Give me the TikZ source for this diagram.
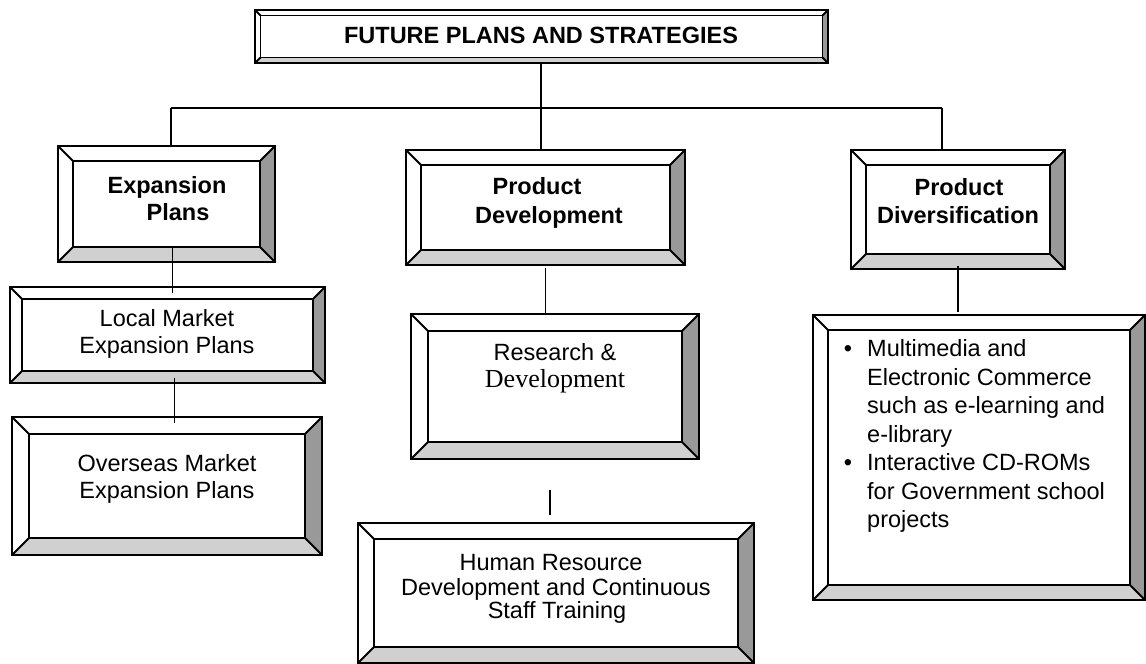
\documentclass[tikz,border=0pt]{standalone}
\usepackage{fontspec}
\setmainfont{Liberation Sans}
\newfontfamily\serifface{Liberation Serif}
\usetikzlibrary{calc}
\definecolor{sidegray}{HTML}{999999}
\definecolor{basegray}{HTML}{D0D0D0}
\begin{document}
\begin{tikzpicture}[x=1pt,y=-1pt,
  frame/.style={draw=black,line width=1.8pt,line join=miter},
  link/.style={draw=black,line width=1.8pt},
  txt/.style={anchor=base,inner sep=0pt,font=\fontsize{23.5}{27}\selectfont},
  btxt/.style={txt,font=\fontsize{23.5}{27}\selectfont\bfseries},
  ltxt/.style={txt,anchor=base west},
  boxnode/.style={rectangle,inner sep=0pt,outer sep=0pt}]
% bevelled box: name, x1, y1, x2, y2, bevel width
\newcommand\bevelbox[6]{%
  \node[boxnode,minimum width={(#4-#2)*1pt},minimum height={(#5-#3)*1pt}] (#1) at ({(#2+#4)/2},{(#3+#5)/2}) {};
  \node[boxnode,minimum width={(#4-#2-2*#6)*1pt},minimum height={(#5-#3-2*#6)*1pt}] (#1-in) at ({(#2+#4)/2},{(#3+#5)/2}) {};
  \fill[white] (#1.north west) rectangle (#1.south east);
  \fill[sidegray] (#1.north east) -- (#1.south east) -- (#1-in.south east) -- (#1-in.north east) -- cycle;
  \fill[basegray] (#1.south west) -- (#1.south east) -- (#1-in.south east) -- (#1-in.south west) -- cycle;
  \draw[frame] (#1.north west) rectangle (#1.south east);
  \draw[frame] (#1-in.north west) rectangle (#1-in.south east);
  \draw[frame] (#1.north west) -- (#1-in.north west)
               (#1.north east) -- (#1-in.north east)
               (#1.south west) -- (#1-in.south west)
               (#1.south east) -- (#1-in.south east);
}
\useasboundingbox (0,0) rectangle (1146,664);
\fill[white] (0,0) rectangle (1146,664);

% boxes
\bevelbox{title}{255}{10}{828}{63}{5.5}
\bevelbox{exp}{58}{146}{275}{262}{15}
\bevelbox{loc}{10}{287}{325}{383}{12}
\bevelbox{ov}{12}{417}{322}{555}{17}
\bevelbox{pd}{406}{150}{685}{265}{15}
\bevelbox{rd}{411}{314}{699}{459}{17}
\bevelbox{hr}{358}{523}{754}{663}{16}
\bevelbox{pdiv}{851}{150}{1065}{269}{15}
\bevelbox{bul}{813}{315}{1145}{600}{15}

% texts
\node[btxt] (t-title) at (541,43.5) {FUTURE PLANS AND STRATEGIES};
\node[btxt] (t-exp1) at (167,193.5) {Expansion};
\node[btxt] (t-exp2) at (178,220.5) {Plans};
\node[btxt] (t-pd1) at (537,194.5) {Product};
\node[btxt] (t-pd2) at (549,223.5) {Development};
\node[btxt] (t-pdiv1) at (959,195.5) {Product};
\node[btxt] (t-pdiv2) at (958,223.5) {Diversification};
\node[txt] (t-loc1) at (167,326.5) {Local Market};
\node[txt] (t-loc2) at (167,353.5) {Expansion Plans};
\node[txt] (t-ov1) at (167,471.5) {Overseas Market};
\node[txt] (t-ov2) at (167,498.5) {Expansion Plans};
\node[txt] (t-rd1) at (555,360.5) {Research \&};
\node[txt,font=\fontsize{26}{28}\serifface] (t-rd2) at (555,387) {Development};
\node[txt] (t-hr1) at (551,570.5) {Human Resource};
\node[txt] (t-hr2) at (556,595.5) {Development and Continuous};
\node[txt] (t-hr3) at (557,618.5) {Staff Training};
\node[txt] (b1) at (848,356.5) {•};
\node[ltxt] (t-b1) at (867,356.5) {Multimedia and};
\node[ltxt] (t-b2) at (867,385) {Electronic Commerce};
\node[ltxt] (t-b3) at (867,413.5) {such as e-learning and};
\node[ltxt] (t-b4) at (867,442) {e-library};
\node[txt] (b2) at (848,470.5) {•};
\node[ltxt] (t-b5) at (867,470.5) {Interactive CD-ROMs};
\node[ltxt] (t-b6) at (867,499) {for Government school};
\node[ltxt] (t-b7) at (867,527.5) {projects};

% connectors
\coordinate (busL) at (171,108);
\coordinate (busM) at (541,108);
\coordinate (busR) at (942,108);
\draw[link] (title.south -| busM) -- (busM);
\draw[link] (busL) -- (busR);
\draw[link] (busL) -- (busL |- exp.north);
\draw[link] (busM) -- (busM |- pd.north);
\draw[link] (busR) -- (busR |- pdiv.north);
\coordinate (k1) at ($(exp-in.south)+(6,0)$);
\draw[link,shorten >=6pt] (k1) -- (k1 |- loc-in.north);
\coordinate (k2) at ($(loc-in.south)+(7,0)$);
\draw[link,shorten <=7pt,shorten >=11pt] (k2) -- (k2 |- ov-in.north);
\coordinate (k3) at ($(pd.south)+(0,0)$);
\draw[link,shorten <=3pt] (k3) -- (k3 |- rd.north);
\coordinate (k4) at ($(rd.south)+(-5,0)$);
\draw[link,shorten <=31pt,shorten >=8pt] (k4) -- (k4 |- hr.north);
\draw[link,shorten <=-3pt,shorten >=3pt] (pdiv.south) -- (pdiv.south |- bul.north);
\end{tikzpicture}
\end{document}
